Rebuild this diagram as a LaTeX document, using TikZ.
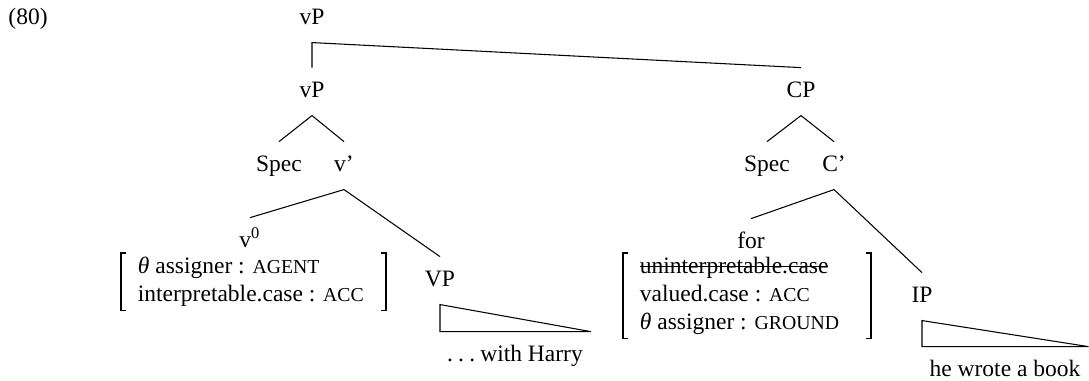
\documentclass[tikz,border=0pt]{standalone}
\usepackage{fontspec}
\setmainfont{Liberation Serif}
\newcommand\fsc[1]{{\fontsize{8.4pt}{10pt}\selectfont #1}}
\newcommand\strk[1]{\setbox0=\hbox{#1}\rlap{\rule[0.55ex]{\wd0}{0.45pt}}\box0}
\begin{document}
\begin{tikzpicture}[x=0.4255pt,y=-0.4255pt,
  lbl/.style={anchor=base, inner xsep=0pt, inner ysep=5.3pt, text height=7pt, text depth=2.4pt},
  tri/.style={lbl, inner xsep=3.3pt},
  edge/.style={line width=0.45pt, line join=miter},
  avm/.style={anchor=north west, inner xsep=7pt, inner ysep=0pt},
  brk/.style={line width=0.55pt}]
\useasboundingbox (0,0) rectangle (1089,380);
\node[anchor=base west, inner sep=0pt] (ex) at (8,24) {(80)};
\node[lbl] (vPtop) at (312,24) {vP};
\node[lbl] (vP) at (312,97) {vP};
\node[lbl] (CP) at (801,97) {CP};
\node[lbl] (specL) at (279,171) {Spec};
\node[lbl] (vbar) at (344,171) {v’};
\node[lbl] (specR) at (767,171) {Spec};
\node[lbl] (Cbar) at (834,171) {C’};
\node[lbl] (v0) at (250,247) {v\textsuperscript{0}};
\node[lbl] (for) at (751,248) {for};
\node[lbl] (VP) at (440,286) {VP};
\node[lbl] (IP) at (922,302) {IP};
\node[tri] (wh) at (515,361) {.\kern2.2pt.\kern2.2pt.\kern2.2pt{}with Harry};
\node[tri] (book) at (1005,376) {he wrote a book};
\node[avm] (avmL) at (121,253) {\makebox[98.3pt][l]{\begin{tabular}{@{}l@{}}{\itshape θ} assigner : \fsc{AGENT}\\ interpretable.case : \fsc{ACC}\end{tabular}}};
\node[avm] (avmR) at (623,253) {\makebox[91.1pt][l]{\begin{tabular}{@{}l@{}}\strk{uninterpretable.case}\\ valued.case : \fsc{ACC}\\ {\itshape θ} assigner : \fsc{GROUND}\end{tabular}}};
% brackets
\draw[brk] ([xshift=2.2pt]avmL.north west) -- (avmL.north west) -- (avmL.south west) -- ([xshift=2.2pt]avmL.south west);
\draw[brk] ([xshift=-2.2pt]avmL.north east) -- (avmL.north east) -- (avmL.south east) -- ([xshift=-2.2pt]avmL.south east);
\draw[brk] ([xshift=2.2pt]avmR.north west) -- (avmR.north west) -- (avmR.south west) -- ([xshift=2.2pt]avmR.south west);
\draw[brk] ([xshift=-2.2pt]avmR.north east) -- (avmR.north east) -- (avmR.south east) -- ([xshift=-2.2pt]avmR.south east);
% edges
\draw[edge] (vP.north) -- (vPtop.south) -- (CP.north);
\draw[edge] (vP.south) -- (specL.north);
\draw[edge] (vP.south) -- (vbar.north);
\draw[edge] (CP.south) -- (specR.north);
\draw[edge] (CP.south) -- (Cbar.north);
\draw[edge] (vbar.south) -- (v0.north);
\draw[edge] (vbar.south) -- (VP.north);
\draw[edge] (Cbar.south) -- (for.north);
\draw[edge] (Cbar.south) -- (IP.north);
\draw[edge] (VP.south) -- (VP.south |- wh.north) -- (wh.north east) -- cycle;
\draw[edge] (IP.south) -- (IP.south |- book.north) -- (book.north east) -- cycle;
\end{tikzpicture}
\end{document}
